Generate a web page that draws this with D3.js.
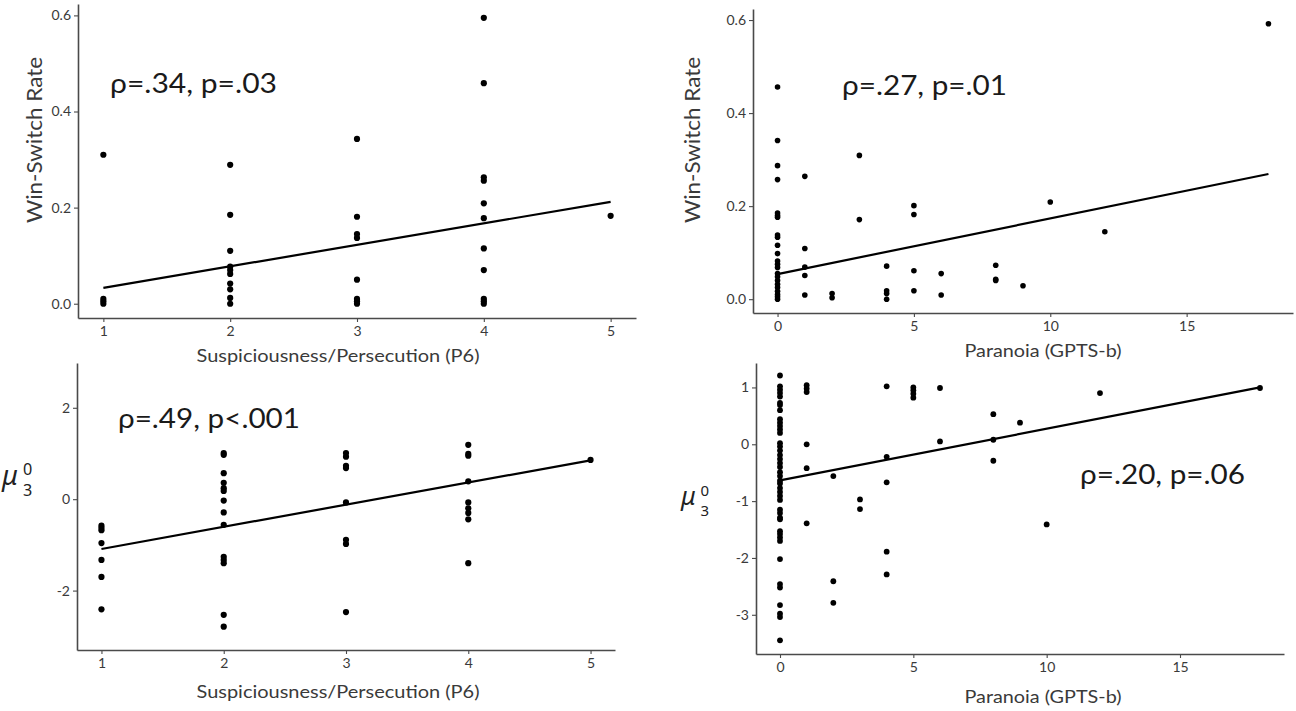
<!DOCTYPE html>
<html><head><meta charset="utf-8">
<script src="https://cdn.jsdelivr.net/npm/d3@7"></script>
<style>body{margin:0;background:#fff}</style>
</head><body><svg id="c" width="1296" height="711"></svg>
<script>
// ---------- data ----------
const p6Levels = [1, 2, 3, 4, 5];
const wsByP6 = [
  [0.31, 0.010, 0.005, 0.0],
  [0.289, 0.185, 0.110, 0.077, 0.070, 0.062, 0.042, 0.030, 0.012, 0.0],
  [0.343, 0.181, 0.145, 0.137, 0.050, 0.010, 0.005, 0.0],
  [0.595, 0.459, 0.263, 0.256, 0.209, 0.178, 0.115, 0.070, 0.010, 0.005, 0.0],
  [0.183]
];
const muByP6 = [
  [-0.58, -0.63, -0.68, -0.96, -1.33, -1.70, -2.41],
  [1.01, 0.97, 0.57, 0.36, 0.24, 0.18, -0.03, -0.29, -0.56, -1.26, -1.33, -1.40, -2.53, -2.79],
  [1.01, 0.93, 0.73, 0.68, -0.07, -0.89, -0.98, -2.47],
  [1.19, 0.99, 0.95, 0.39, -0.07, -0.20, -0.30, -0.44, -1.40],
  [0.86]
];
const gptsLevels = [0, 1, 2, 3, 4, 5, 6, 8, 9, 10, 12, 18];
const wsByGpts = [
  [0.456, 0.341, 0.287, 0.257, 0.185, 0.180, 0.176, 0.138, 0.133, 0.116, 0.098, 0.082, 0.075, 0.068, 0.055, 0.048, 0.040, 0.032, 0.025, 0.017, 0.010, 0.005, 0.0],
  [0.264, 0.109, 0.069, 0.051, 0.009],
  [0.012, 0.003],
  [0.309, 0.171],
  [0.071, 0.018, 0.012, 0.0],
  [0.201, 0.182, 0.061, 0.018],
  [0.055, 0.009],
  [0.073, 0.043, 0.040],
  [0.029],
  [0.209],
  [0.145],
  [0.592]
];
const muByGpts = [
  [1.21, 1.02, 0.96, 0.90, 0.84, 0.73, 0.69, 0.60, 0.44, 0.38, 0.32, 0.26, 0.20, 0.02, -0.04, -0.11, -0.19, -0.26, -0.33, -0.40, -0.49, -0.56, -0.64, -0.69, -0.77, -0.84, -0.91, -0.98, -1.15, -1.21, -1.29, -1.32, -1.53, -1.58, -1.64, -1.70, -2.02, -2.46, -2.52, -2.83, -2.98, -3.04, -3.45],
  [1.04, 0.98, 0.92, 0.0, -0.42, -1.39],
  [-0.56, -2.41, -2.79],
  [-0.97, -1.14],
  [1.02, -0.22, -0.67, -1.89, -2.29],
  [1.0, 0.95, 0.89, 0.82],
  [0.99, 0.05],
  [0.53, 0.08, -0.29],
  [0.38],
  [-1.41],
  [0.90],
  [0.99]
];
// fitted line end values (at first and last x)
const fitP6Ws = [0.033, 0.212];
const fitP6Mu = [-1.09, 0.85];
const fitGpWs = [0.054, 0.269];
const fitGpMu = [-0.635, 1.0];
const fitP6X = [1, 5];
const fitGpX = [0, 18];

const p6Ticks = [1, 2, 3, 4, 5];
const gpTicks = [0, 5, 10, 15];
const wsTicks = [0, 0.2, 0.4, 0.6];
const muP6Ticks = [-2, 0, 2];
const muGpTicks = [-3, -2, -1, 0, 1];

const labels = {
  ws: "Win-Switch Rate",
  p6: "Suspiciousness/Persecution (P6)",
  gp: "Paranoia (GPTS-b)",
  a1: "ρ=.34, p=.03",
  a2: "ρ=.27, p=.01",
  a3: "ρ=.49, p<.001",
  a4: "ρ=.20, p=.06"
};

function flatten(levels, groups) {
  const out = [];
  levels.forEach((lv, i) => groups[i].forEach(v => out.push([lv, v])));
  return out;
}

// ---------- drawing ----------
const svg = d3.select("#c");
const FONT = "Lato, 'Open Sans', 'Noto Sans', sans-serif";
const AXC = "#4a4a4a";

const panels = [
  { pts: flatten(p6Levels, wsByP6), xd: [0.8, 5.2], xr: [78, 636], yd: [-0.0297, 0.6237], yr: [318, 4],
    xt: p6Ticks, yt: wsTicks, yf: d3.format(".1f"), fitX: fitP6X, fitY: fitP6Ws, r: 3.1,
    xlab: labels.p6, xlabPos: [338, 362], xlabW: 283, ylab: "ws", ylabPos: [42, 140],
    ann: labels.a1, annPos: [110, 93], annW: 167 },
  { pts: flatten(gptsLevels, wsByGpts), xd: [-0.9, 18.9], xr: [753, 1293], yd: [-0.0297, 0.6237], yr: [313, 9],
    xt: gpTicks, yt: wsTicks, yf: d3.format(".1f"), fitX: fitGpX, fitY: fitGpWs, r: 2.8,
    xlab: labels.gp, xlabPos: [1043, 357], xlabW: 157, ylab: "ws", ylabPos: [700, 140],
    ann: labels.a2, annPos: [842, 95], annW: 165 },
  { pts: flatten(p6Levels, muByP6), xd: [0.8, 5.2], xr: [77, 615], yd: [-3.3, 2.98], yr: [650, 363],
    xt: p6Ticks, yt: muP6Ticks, yf: d => String(d), fitX: fitP6X, fitY: fitP6Mu, r: 3.1,
    xlab: labels.p6, xlabPos: [338, 698], xlabW: 283, ylab: "mu", ylabPos: [2, 485], ylabSize: 27,
    ann: labels.a3, annPos: [118, 428], annW: 182 },
  { pts: flatten(gptsLevels, muByGpts), xd: [-0.9, 18.9], xr: [756, 1284], yd: [-3.69, 1.43], yr: [654, 363],
    xt: gpTicks, yt: muGpTicks, yf: d => String(d), fitX: fitGpX, fitY: fitGpMu, r: 2.9,
    xlab: labels.gp, xlabPos: [1043, 703], xlabW: 157, ylab: "mu", ylabPos: [681, 505], ylabSize: 25,
    ann: labels.a4, annPos: [1080, 484], annW: 165 }
];

panels.forEach(p => {
  const x = d3.scaleLinear().domain(p.xd).range(p.xr);
  const y = d3.scaleLinear().domain(p.yd).range(p.yr);
  const g = svg.append("g");

  // axes
  const xAxis = d3.axisBottom(x).tickValues(p.xt).tickSize(4).tickSizeOuter(0).tickPadding(4).tickFormat(d => String(d));
  const yAxis = d3.axisLeft(y).tickValues(p.yt).tickSize(4).tickSizeOuter(0).tickPadding(3).tickFormat(p.yf);
  const gx = g.append("g").attr("transform", `translate(0,${p.yr[0]})`).call(xAxis);
  const gy = g.append("g").attr("transform", `translate(${p.xr[0]},0)`).call(yAxis);
  [gx, gy].forEach(a => {
    a.select(".domain").attr("stroke", AXC).attr("stroke-width", 1.6);
    a.selectAll(".tick line").attr("stroke", AXC).attr("stroke-width", 1.1);
    a.selectAll(".tick text").attr("fill", "#3a3a3a").style("font-family", FONT).style("font-size", "14px");
  });

  // points
  g.append("g").selectAll("circle").data(p.pts).join("circle")
    .attr("cx", d => x(d[0])).attr("cy", d => y(d[1])).attr("r", p.r).attr("fill", "#000");

  // fit line
  const line = d3.line().x(d => x(d[0])).y(d => y(d[1]));
  g.append("path").datum(p.fitX.map((xv, i) => [xv, p.fitY[i]]))
    .attr("d", line).attr("fill", "none").attr("stroke", "#000").attr("stroke-width", 2.2);

  // x title
  g.append("text").attr("x", p.xlabPos[0]).attr("y", p.xlabPos[1]).attr("text-anchor", "middle")
    .attr("textLength", p.xlabW).attr("lengthAdjust", "spacingAndGlyphs")
    .style("font-family", FONT).style("font-size", "17px").attr("fill", "#3a3a3a").text(p.xlab);

  // y title
  if (p.ylab === "ws") {
    g.append("text").attr("transform", `translate(${p.ylabPos[0]},${p.ylabPos[1]}) rotate(-90)`)
      .attr("text-anchor", "middle").attr("textLength", 166).attr("lengthAdjust", "spacingAndGlyphs")
      .style("font-family", FONT).style("font-size", "21px").attr("fill", "#3a3a3a").text(labels.ws);
  } else {
    const s = p.ylabSize;
    const mf = "'Noto Sans', 'DejaVu Sans', sans-serif";
    g.append("text").attr("x", p.ylabPos[0]).attr("y", p.ylabPos[1])
      .style("font-family", mf).style("font-style", "italic").style("font-size", s + "px")
      .attr("fill", "#222").text("μ");
    g.append("text").attr("x", p.ylabPos[0] + s * 0.78).attr("y", p.ylabPos[1] - s * 0.38)
      .style("font-family", mf).style("font-size", (s * 0.6) + "px")
      .attr("fill", "#222").text("0");
    g.append("text").attr("x", p.ylabPos[0] + s * 0.78).attr("y", p.ylabPos[1] + s * 0.42)
      .style("font-family", mf).style("font-size", (s * 0.6) + "px")
      .attr("fill", "#222").text("3");
  }

  // annotation
  g.append("text").attr("x", p.annPos[0]).attr("y", p.annPos[1])
    .attr("textLength", p.annW).attr("lengthAdjust", "spacingAndGlyphs")
    .style("font-family", FONT).style("font-size", "27px").attr("fill", "#1a1a1a").text(p.ann);
});
</script>
</body></html>
